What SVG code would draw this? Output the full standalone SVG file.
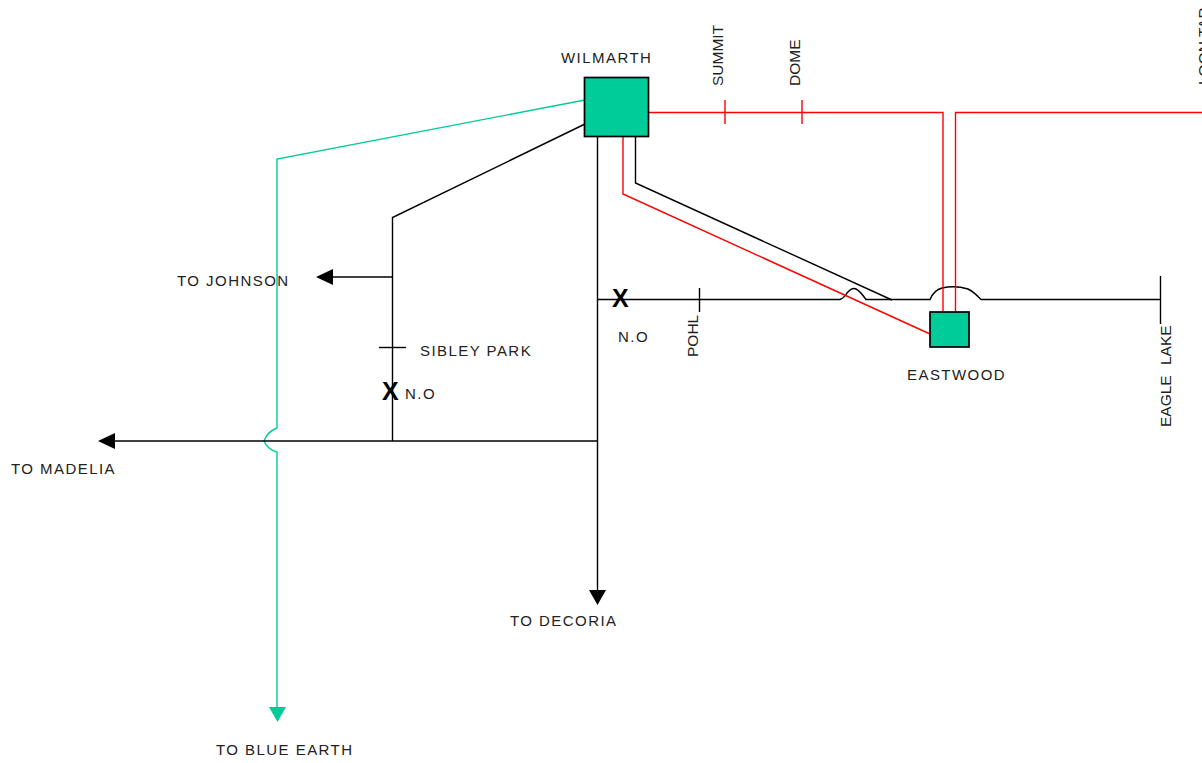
<svg xmlns="http://www.w3.org/2000/svg" width="1202" height="763" viewBox="0 0 1202 763">
<style>
.k{fill:none;stroke:#000;stroke-width:1.4}
.r{fill:none;stroke:#f00;stroke-width:1.4}
.g{fill:none;stroke:#00cc99;stroke-width:1.4}
.box{fill:#00cc99;stroke:#000;stroke-width:1.7}
text{font-family:"Liberation Sans",Arial,sans-serif;font-size:15px;fill:#222;letter-spacing:1.45px}
.v{letter-spacing:0;font-size:15.500px}
.x{font-size:25px;font-weight:bold;fill:#000;letter-spacing:0}
</style>
<rect width="1202" height="763" fill="#fff"/>
<g id="connectors">
<path class="g" d="M585 100L277 159V428Q267 432 264 441Q267 449 277 452V708"/>
<polygon points="269,707 286,707 277.500,722" fill="#00cc99"/>
<path class="k" d="M585 124L392.500 217.500V441"/>
<path class="k" d="M392 277H331"/>
<polygon points="316,277 333,269 333,285" fill="#000"/>
<path class="k" d="M379 347.500H406"/>
<path class="k" d="M597.500 441H114"/>
<polygon points="98,441 115,433 115,449" fill="#000"/>
<path class="k" d="M597.500 136V591"/>
<polygon points="589,590 606,590 597.500,605" fill="#000"/>
<path class="k" d="M635.500 136V183L892 300"/>
<path class="k" d="M597 299.500H840Q844 298 847 293Q852 287 856 289Q860 291 866 299.500H930Q934 290 942 288Q955 285 968 289Q974 292 981 299.500H1161"/>
<path class="k" d="M699.500 288V312"/>
<path class="k" d="M1160.500 276V324"/>
<path class="r" d="M623 136V194L930 334"/>
<path class="r" d="M649 112.500H943V311"/>
<path class="r" d="M955.500 311V112.500H1202"/>
<path class="r" d="M725 100V124M802 100V124"/>
</g>
<g id="wilmarth"><rect class="box" x="584.500" y="77.500" width="64" height="59"/><text x="561" y="63">WILMARTH</text></g>
<g id="eastwood"><rect class="box" x="930" y="312" width="39" height="35"/><text x="907" y="380">EASTWOOD</text></g>
<g id="labels">
<text class="v" transform="translate(723 86) rotate(-90)">SUMMIT</text>
<text class="v" transform="translate(800 86) rotate(-90)">DOME</text>
<text class="v" transform="translate(1209 85) rotate(-90)">LOON TAR</text>
<text class="v" transform="translate(698 357) rotate(-90)">POHL</text>
<text class="v" transform="translate(1171 427) rotate(-90)" style="word-spacing:6px">EAGLE LAKE</text>
<text x="177" y="286">TO JOHNSON</text>
<text x="420" y="356">SIBLEY PARK</text>
<text x="405" y="399">N.O</text>
<text x="618" y="342">N.O</text>
<text x="11" y="474">TO MADELIA</text>
<text x="510" y="626">TO DECORIA</text>
<text x="216" y="755">TO BLUE EARTH</text>
<text class="x" x="382" y="400">X</text>
<text class="x" x="612" y="307">X</text>
</g>
</svg>
